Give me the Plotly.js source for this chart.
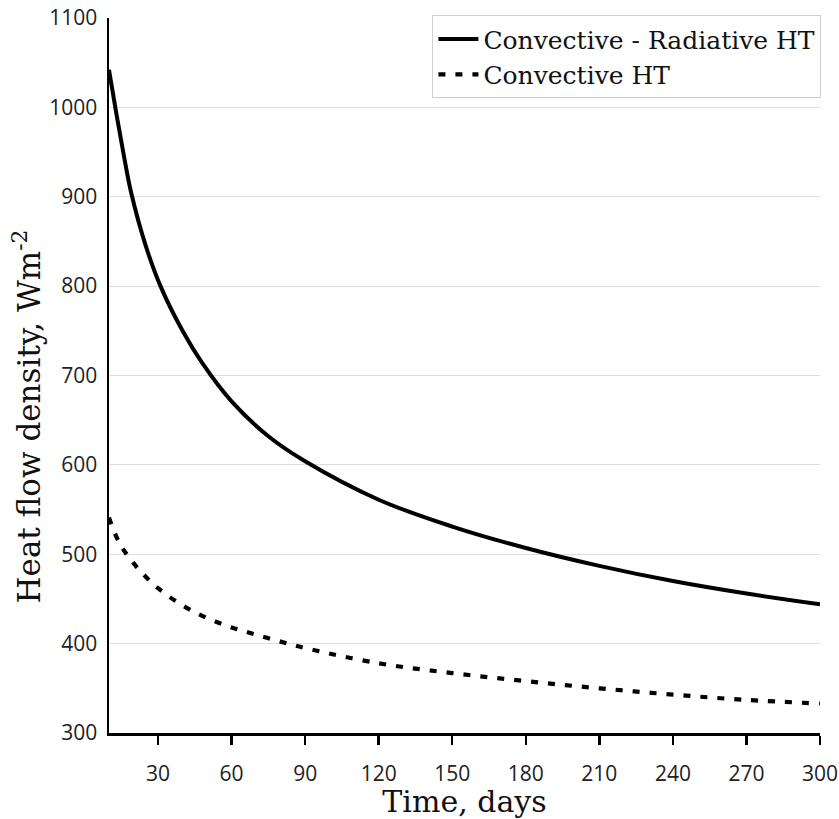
<!DOCTYPE html>
<html>
<head>
<meta charset="utf-8">
<script src="https://cdn.plot.ly/plotly-3.0.1.min.js"></script>
<style>html,body{margin:0;padding:0;background:#fff;}#chart{width:839px;height:819px;}</style>
</head>
<body>
<div id="chart"></div>
<script>
// Time, days
const timeSolid = [10, 13, 16, 19, 25, 31, 40, 48, 60, 75, 90, 120, 150, 180, 210, 240, 270, 300];
// Convective - Radiative HT, W m^-2
const convRad = [1042, 993, 947, 905, 845, 800, 750, 714, 671, 632, 604, 561, 531, 507, 487, 470, 456, 444];

const timeDash = [10, 14, 20, 30, 43, 57, 70, 83, 90, 120, 150, 180, 210, 240, 270, 300];
// Convective HT, W m^-2
const conv = [541, 514, 490, 462, 438, 421, 410, 400, 395, 378, 367, 358, 350, 343, 337, 333];

const xTicks = [30, 60, 90, 120, 150, 180, 210, 240, 270, 300];
const yTicks = [300, 400, 500, 600, 700, 800, 900, 1000, 1100];

const serif = "DejaVu Serif";
const sans = "Open Sans";

const traces = [
  {x: timeSolid, y: convRad, mode: 'lines', name: 'Convective - Radiative HT',
   line: {color: '#000', width: 4, shape: 'spline', smoothing: 1}},
  {x: timeDash, y: conv, mode: 'lines', name: 'Convective HT',
   line: {color: '#000', width: 4.2, shape: 'spline', smoothing: 1, dash: '7px,10px'}}
];

const layout = {
  width: 839, height: 819,
  margin: {l: 109, r: 19, t: 18, b: 86},
  paper_bgcolor: '#fff', plot_bgcolor: '#fff',
  font: {family: serif, size: 25, color: '#111'},
  showlegend: true,
  legend: {x: 1.002, y: 1.004, xanchor: 'right', yanchor: 'top',
    bgcolor: '#fff', bordercolor: '#cfcfcf', borderwidth: 1,
    font: {family: serif, size: 25, color: '#111'}, tracegroupgap: 0, itemwidth: 40},
  xaxis: {
    range: [10, 300], tickvals: xTicks, ticktext: xTicks.map(String),
    showgrid: false, zeroline: false,
    showline: true, linecolor: '#000', linewidth: 2.5,
    ticks: 'outside', ticklen: 9, tickwidth: 2.5, tickcolor: '#000',
    tickfont: {family: sans, size: 21, color: '#222'},
    ticklabelstandoff: 11,
    title: {text: 'Time, days', font: {family: serif, size: 30, color: '#111'}, standoff: 6}
  },
  yaxis: {
    range: [300, 1100], tickvals: yTicks, ticktext: yTicks.map(String),
    showgrid: true, gridcolor: '#dcdcdc', gridwidth: 1.2, zeroline: false,
    showline: true, linecolor: '#000', linewidth: 2.5,
    ticks: '', tickfont: {family: sans, size: 21, color: '#222'},
    ticklabelstandoff: 5
  },
  annotations: [{
    text: 'Heat flow density, Wm<sup>-2</sup>',
    xref: 'paper', yref: 'paper', x: -0.115, y: 0.443,
    xanchor: 'center', yanchor: 'middle', textangle: -90, showarrow: false,
    font: {family: serif, size: 31, color: '#111'}
  }]
};

Plotly.newPlot('chart', traces, layout, {displayModeBar: false, staticPlot: true});
</script>
</body>
</html>
